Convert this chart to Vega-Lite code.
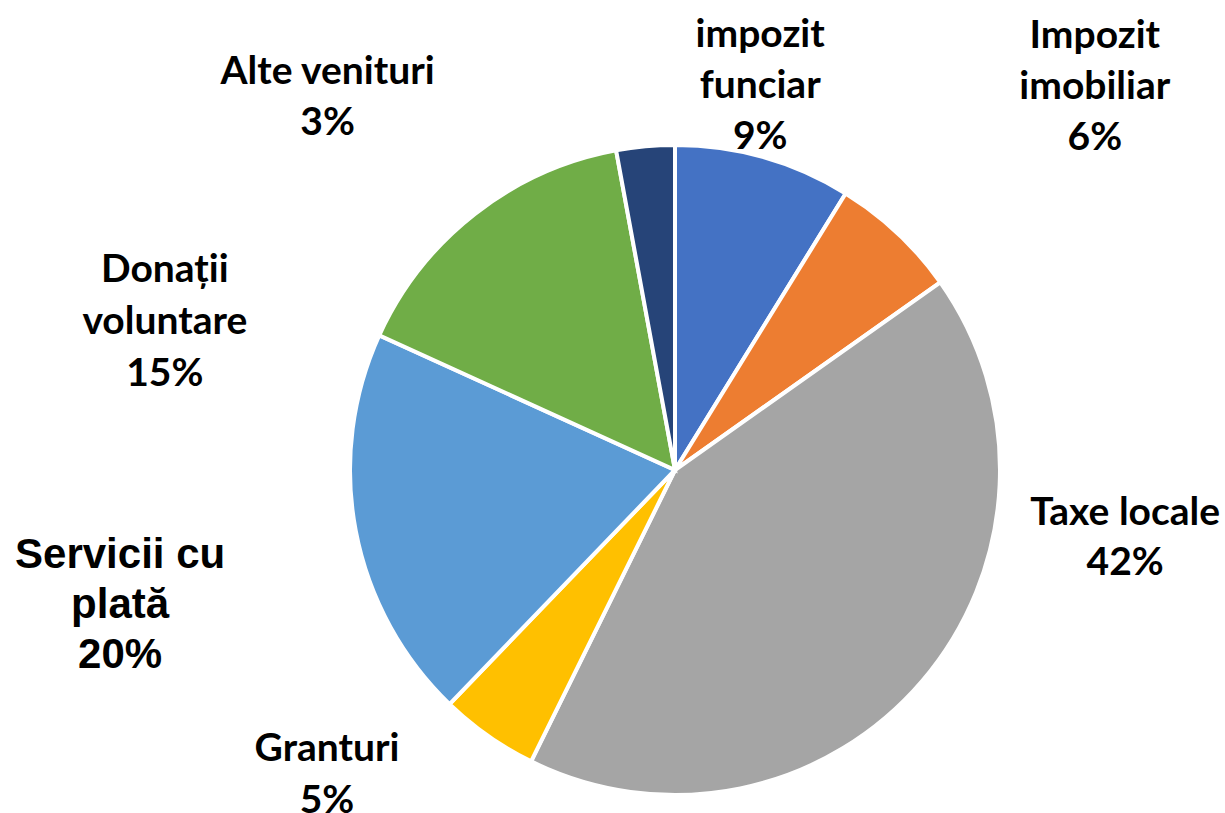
{
  "$schema": "https://vega.github.io/schema/vega-lite/v6.json",
  "autosize": "none",
  "padding": {"left": 125, "top": 127, "right": 0, "bottom": 0},
  "width": 1100,
  "height": 686,
  "background": "white",
  "config": {"view": {"stroke": null}},
  "data": {
    "values": [
      {"order": 1, "cat": "impozit funciar", "value": 8.8, "label": "impozit\nfunciar\n9%"},
      {"order": 2, "cat": "Impozit imobiliar", "value": 6.4, "label": "Impozit\nimobiliar\n6%"},
      {"order": 3, "cat": "Taxe locale", "value": 42.1, "label": "Taxe locale\n42%"},
      {"order": 4, "cat": "Granturi", "value": 4.9, "label": "Granturi\n5%"},
      {"order": 5, "cat": "Servicii cu plată", "value": 19.6, "label": "Servicii cu\nplată\n20%"},
      {"order": 6, "cat": "Donații voluntare", "value": 15.3, "label": "Donații\nvoluntare\n15%"},
      {"order": 7, "cat": "Alte venituri", "value": 2.9, "label": "Alte venituri\n3%"}
    ]
  },
  "layer": [
    {
      "mark": {"type": "arc", "outerRadius": 325, "stroke": "white", "strokeWidth": 4},
      "encoding": {
        "theta": {"field": "value", "type": "quantitative", "stack": true},
        "order": {"field": "order", "type": "quantitative"},
        "color": {
          "field": "cat", "type": "nominal", "legend": null,
          "scale": {
            "domain": ["impozit funciar", "Impozit imobiliar", "Taxe locale", "Granturi", "Servicii cu plată", "Donații voluntare", "Alte venituri"],
            "range": ["#4472C4", "#ED7D31", "#A5A5A5", "#FFC000", "#5B9BD5", "#70AD47", "#264478"]
          }
        }
      }
    },
    {
      "mark": {"type": "text", "radius": 400, "font": "Lato", "fontWeight": "bold", "fontSize": 39, "lineBreak": "\n", "lineHeight": 51, "align": "center", "baseline": "middle", "dx": -24, "dy": -50, "color": "black"},
      "encoding": {
        "theta": {"field": "value", "type": "quantitative", "stack": true},
        "order": {"field": "order", "type": "quantitative"},
        "detail": {"field": "cat", "type": "nominal"},
        "text": {"condition": {"test": "datum.cat === 'impozit funciar'", "field": "label"}, "value": ""}
      }
    },
    {
      "mark": {"type": "text", "radius": 400, "font": "Lato", "fontWeight": "bold", "fontSize": 39, "lineBreak": "\n", "lineHeight": 51, "align": "center", "baseline": "middle", "dx": 146, "dy": -142, "color": "black"},
      "encoding": {
        "theta": {"field": "value", "type": "quantitative", "stack": true},
        "order": {"field": "order", "type": "quantitative"},
        "detail": {"field": "cat", "type": "nominal"},
        "text": {"condition": {"test": "datum.cat === 'Impozit imobiliar'", "field": "label"}, "value": ""}
      }
    },
    {
      "mark": {"type": "text", "radius": 400, "font": "Lato", "fontWeight": "bold", "fontSize": 39, "lineBreak": "\n", "lineHeight": 50, "align": "center", "baseline": "middle", "dx": 146, "dy": -217, "color": "black"},
      "encoding": {
        "theta": {"field": "value", "type": "quantitative", "stack": true},
        "order": {"field": "order", "type": "quantitative"},
        "detail": {"field": "cat", "type": "nominal"},
        "text": {"condition": {"test": "datum.cat === 'Taxe locale'", "field": "label"}, "value": ""}
      }
    },
    {
      "mark": {"type": "text", "radius": 400, "font": "Lato", "fontWeight": "bold", "fontSize": 39, "lineBreak": "\n", "lineHeight": 52, "align": "center", "baseline": "middle", "dx": -118, "dy": -48, "color": "black"},
      "encoding": {
        "theta": {"field": "value", "type": "quantitative", "stack": true},
        "order": {"field": "order", "type": "quantitative"},
        "detail": {"field": "cat", "type": "nominal"},
        "text": {"condition": {"test": "datum.cat === 'Granturi'", "field": "label"}, "value": ""}
      }
    },
    {
      "mark": {"type": "text", "radius": 400, "font": "Liberation Sans", "fontWeight": "bold", "fontSize": 42, "lineBreak": "\n", "lineHeight": 50, "align": "center", "baseline": "middle", "dx": -162, "dy": 10, "color": "black"},
      "encoding": {
        "theta": {"field": "value", "type": "quantitative", "stack": true},
        "order": {"field": "order", "type": "quantitative"},
        "detail": {"field": "cat", "type": "nominal"},
        "text": {"condition": {"test": "datum.cat === 'Servicii cu plată'", "field": "label"}, "value": ""}
      }
    },
    {
      "mark": {"type": "text", "radius": 400, "font": "Lato", "fontWeight": "bold", "fontSize": 39, "lineBreak": "\n", "lineHeight": 52, "align": "center", "baseline": "middle", "dx": -264, "dy": 115, "color": "black"},
      "encoding": {
        "theta": {"field": "value", "type": "quantitative", "stack": true},
        "order": {"field": "order", "type": "quantitative"},
        "detail": {"field": "cat", "type": "nominal"},
        "text": {"condition": {"test": "datum.cat === 'Donații voluntare'", "field": "label"}, "value": ""}
      }
    },
    {
      "mark": {"type": "text", "radius": 400, "font": "Lato", "fontWeight": "bold", "fontSize": 39, "lineBreak": "\n", "lineHeight": 51, "align": "center", "baseline": "middle", "dx": -311, "dy": 0, "color": "black"},
      "encoding": {
        "theta": {"field": "value", "type": "quantitative", "stack": true},
        "order": {"field": "order", "type": "quantitative"},
        "detail": {"field": "cat", "type": "nominal"},
        "text": {"condition": {"test": "datum.cat === 'Alte venituri'", "field": "label"}, "value": ""}
      }
    }
  ]
}
